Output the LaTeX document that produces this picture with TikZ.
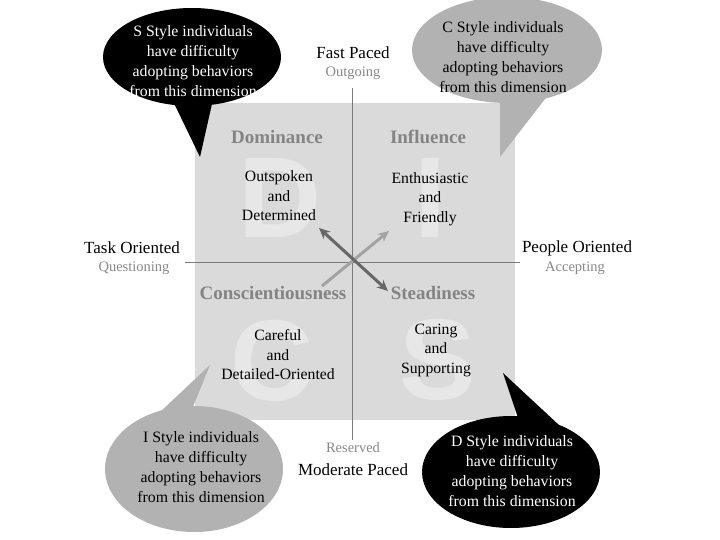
\documentclass[tikz,border=0pt]{standalone}
\usepackage{fontspec}
\setmainfont{Liberation Serif}
\setsansfont{Liberation Sans}
\usetikzlibrary{arrows.meta}
\definecolor{sq}{HTML}{DADADA}
\definecolor{bigl}{HTML}{E7E7E7}
\definecolor{ttl}{HTML}{848484}
\definecolor{sub}{HTML}{888888}
\definecolor{bub}{HTML}{B2B2B2}
\definecolor{axis}{HTML}{7A7A7A}
\definecolor{darr}{HTML}{676767}
\definecolor{larr}{HTML}{A3A3A3}
\tikzset{
  body/.style={inner sep=0pt, align=center, font=\fontsize{15.7}{19.5}\selectfont},
  ttlstyle/.style={inner sep=0pt, text=ttl, font=\fontsize{19}{22}\selectfont\bfseries},
  axlab/.style={inner sep=0pt, font=\fontsize{17}{20}\selectfont},
  axsub/.style={inner sep=0pt, text=sub, font=\fontsize{14.5}{17}\selectfont},
  biglet/.style={inner sep=0pt, anchor=base, text=bigl, font=\fontsize{115}{115}\sffamily\bfseries},
  bubtext/.style={inner sep=0pt, align=center, font=\fontsize{15.8}{20}\selectfont},
}
\begin{document}
\begin{tikzpicture}[x=1pt,y=-1pt]
\useasboundingbox (0,0) rectangle (720,540);
% square
\fill[sq] (195,103) rectangle (515,420);
% big letters
\node[biglet] (bD) at (280,237) {D};
\node[biglet] (bI) at (430,237) {I};
\node[biglet] (bC) at (272,400) {C};
\node[biglet] (bS) at (438,399) {S};
% axes
\coordinate (vt) at (352,88);
\coordinate (vb) at (352,440);
\coordinate (hl) at (185,262);
\coordinate (hr) at (520,262);
\draw[axis, line width=1pt] (vt) -- (vb);
\draw[axis, line width=1pt] (hl) -- (hr);
% arrows
\coordinate (la1) at (322,286);
\coordinate (la2) at (389,231);
\coordinate (da1) at (319,228);
\coordinate (da2) at (388,291);
\draw[larr, line width=3pt, -{Stealth[length=11pt,width=10pt]}] (la1) -- (la2);
\draw[darr, line width=3pt, {Stealth[length=11pt,width=10pt]}-{Stealth[length=11pt,width=10pt]}] (da1) -- (da2);
% titles
\node[ttlstyle] (tD) at (277,137) {Dominance};
\node[ttlstyle] (tI) at (428,137) {Influence};
\node[ttlstyle] (tC) at (273,293) {Conscientiousness};
\node[ttlstyle] (tS) at (433,293) {Steadiness};
% bodies
\node[body] (xD) at (279,196) {Outspoken\\and\\Determined};
\node[body] (xI) at (430,199) {Enthusiastic\\and\\Friendly};
\node[body] (xC) at (278,355) {Careful\\and\\Detailed-Oriented};
\node[body] (xS) at (436,350) {Caring\\and\\Supporting};
% axis labels
\node[axlab] (fast) at (353,53) {Fast Paced};
\node[axsub] (out) at (353,73) {Outgoing};
\node[axlab] (task) at (132,248) {Task Oriented};
\node[axsub] (ques) at (134,268) {Questioning};
\node[axlab] (peop) at (577,248) {People Oriented};
\node[axsub] (acc) at (575,268) {Accepting};
\node[axsub] (res) at (353,448) {Reserved};
\node[axlab] (mod) at (353,470) {Moderate Paced};
% bubbles
\fill[black] (192,57) ellipse [x radius=89, y radius=49];
\fill[black] (170,95) -- (214,95) -- (200,157) -- cycle;
\fill[bub] (507,50) ellipse [x radius=95, y radius=53];
\fill[bub] (500,95) -- (552,90) -- (500,157) -- cycle;
\fill[bub] (194,469) ellipse [x radius=89, y radius=63];
\fill[bub] (158,414) -- (190,414) -- (210,365) -- cycle;
\fill[black] (511,472) ellipse [x radius=89, y radius=56];
\fill[black] (503,373) -- (522,430) -- (588,452) -- cycle;
% bubble texts
\node[bubtext, text=white] (bubS) at (193,61) {S Style individuals\\have difficulty\\adopting behaviors\\from this dimension};
\node[bubtext] (bubC) at (503,57) {C Style individuals\\have difficulty\\adopting behaviors\\from this dimension};
\node[bubtext] (bubI) at (201,467) {I Style individuals\\have difficulty\\adopting behaviors\\from this dimension};
\node[bubtext, text=white] (bubD) at (512,471) {D Style individuals\\have difficulty\\adopting behaviors\\from this dimension};
\end{tikzpicture}
\end{document}
